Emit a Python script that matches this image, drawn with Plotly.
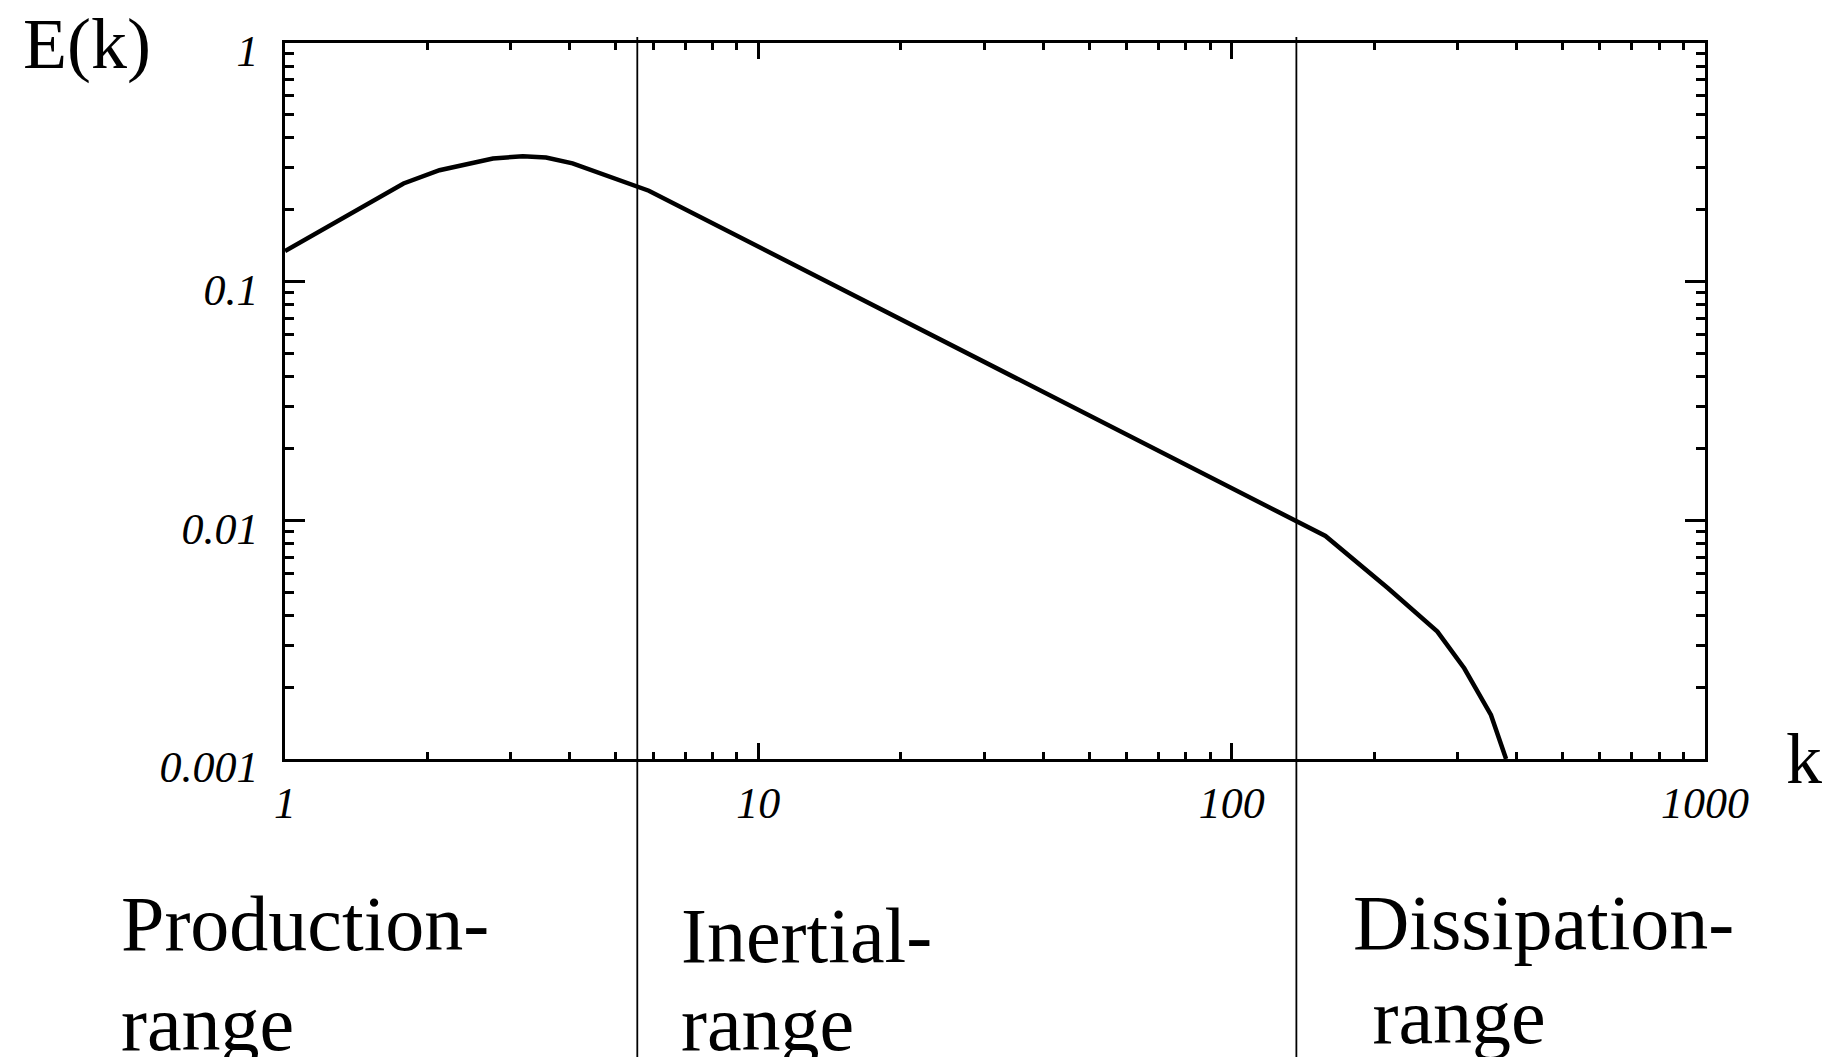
import plotly.graph_objects as go

# Energy spectrum E(k) versus wavenumber k (log-log)
k_values = [1, 1.37, 1.78, 2.12, 2.75, 3.18, 3.56, 4.05, 5.87, 157.8, 214, 272, 310, 353, 380]
e_values = [0.1344, 0.193, 0.258, 0.293, 0.328, 0.3357, 0.331, 0.313, 0.2404, 0.0086,
            0.00519, 0.00342, 0.0024, 0.00153, 0.001]

# Wavenumbers separating the three ranges
range_boundaries = [5.55, 137.0]

# Axis ticks
x_tickvals = [1, 10, 100, 1000]
x_ticktext = ["1", "10", "100", "1000"]
y_tickvals = [1, 0.1, 0.01, 0.001]
y_ticktext = ["1", "0.1", "0.01", "0.001"]

# Range labels: (first line, second line)
range_labels = [("Production-", "range"), ("Inertial-", "range"), ("Dissipation-", " range")]

W, H = 1840, 1057
L, R, T, B = 285, 1705, 43, 759  # plot area in pixels


def px_x(px):
    return (px - L) / (R - L)


def px_y(py):
    return (B - py) / (B - T)


serif = "Liberation Serif"

x_minor = [m * 10 ** d for d in range(3) for m in range(2, 10)]
y_minor = [m * 10 ** d for d in range(-3, 0) for m in range(2, 10)]

fig = go.Figure()
fig.add_trace(go.Scatter(
    x=k_values, y=e_values, mode="lines",
    line=dict(color="black", width=4.5),
    showlegend=False, hoverinfo="skip",
))

for kb in range_boundaries:
    fig.add_shape(type="line", xref="x", yref="paper",
                  x0=kb, x1=kb, y0=px_y(H + 5), y1=px_y(37),
                  line=dict(color="black", width=1.8), layer="above")

axis_common = dict(
    type="log", showgrid=False, zeroline=False,
    showline=True, linecolor="black", linewidth=2.6,
    mirror="allticks", ticks="inside", tickcolor="black", tickwidth=2.5,
    tickfont=dict(family=serif, size=44, color="black", style="italic"),
    tickmode="array",
)

fig.update_xaxes(
    **axis_common,
    range=[0, 3], tickvals=x_tickvals, ticktext=x_ticktext, ticklen=16,
    ticklabelstandoff=3,
    minor=dict(tickmode="array", tickvals=x_minor, ticks="inside", ticklen=7.5,
               tickwidth=2.5, tickcolor="black", showgrid=False),
)
fig.update_yaxes(
    **axis_common,
    range=[-3, 0], tickvals=y_tickvals, ticktext=y_ticktext, ticklen=20,
    ticklabelstandoff=15, ticklabelshift=8,
    minor=dict(tickmode="array", tickvals=y_minor, ticks="inside", ticklen=9,
               tickwidth=2.5, tickcolor="black", showgrid=False),
)


def label(text, left_px, baseline_px, size):
    # centre of the text box sits about a third of an em above the baseline
    centre = baseline_px - 0.3375 * size
    fig.add_annotation(
        text=text, xref="paper", yref="paper",
        x=px_x(left_px), y=px_y(centre), xanchor="left", yanchor="middle",
        showarrow=False, font=dict(family=serif, size=size, color="black"),
    )


label("E(k)", 21, 68, 72)
label("k", 1784, 783, 72)

label_pos = [((119, 950), (119, 1050)), ((679, 962), (679, 1050)), ((1351, 949), (1351, 1043))]
for (line1, line2), ((x1, b1), (x2, b2)) in zip(range_labels, label_pos):
    label(line1, x1, b1, 78)
    label(line2, x2, b2, 78)

fig.update_layout(
    width=W, height=H,
    margin=dict(l=L, r=W - R, t=T, b=H - B, pad=0),
    paper_bgcolor="white", plot_bgcolor="white",
    showlegend=False,
)

fig.write_html("out.html")
